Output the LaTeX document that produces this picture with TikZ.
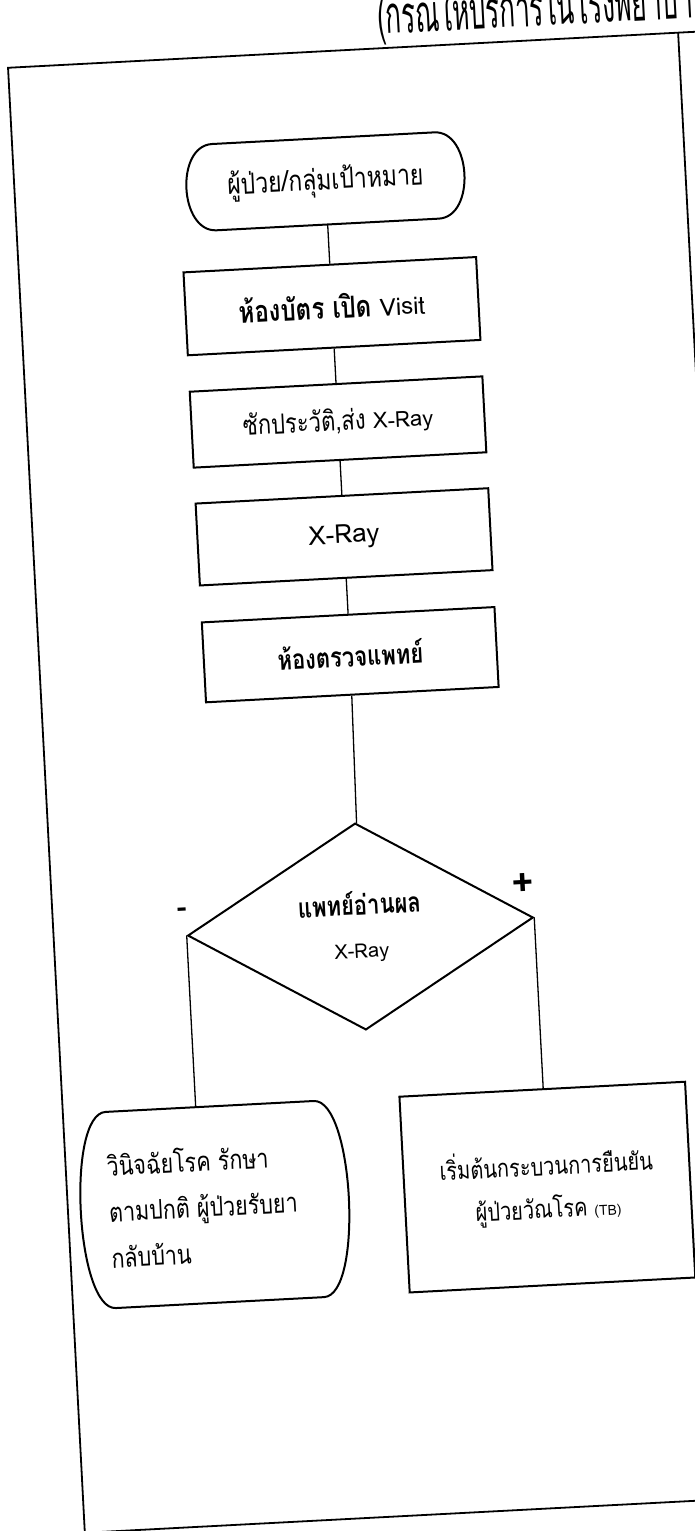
\documentclass[tikz,border=0pt]{standalone}
\usepackage{fontspec}
\usepackage{graphicx}
\newfontfamily\thaifont[Script=Thai]{Loma}
\usetikzlibrary{shapes.geometric}

% Thai letters in the scan stand taller than Loma's
\newcommand{\tallth}[1]{\scalebox{1}[1.25]{#1}}

% terminal outline with bulged ends, drawn round a node
\newcommand{\roundends}[2]{%
  \draw[outline] ([xshift=#2pt]#1.north west) -- ([xshift=-#2pt]#1.north east)
    .. controls ([xshift={#2pt/3}]#1.north east) and ([xshift={#2pt/3}]#1.south east) .. ([xshift=-#2pt]#1.south east)
    -- ([xshift=#2pt]#1.south west)
    .. controls ([xshift={-#2pt/3}]#1.south west) and ([xshift={-#2pt/3}]#1.north west) .. cycle;}

\begin{document}
\begin{tikzpicture}[
    x=1pt, y=-1pt,
    every node/.style={inner sep=0pt, font=\thaifont\fontsize{20}{43}\selectfont},
    outline/.style={line width=2pt},
    stepbox/.style={draw, outline, minimum width=293pt, align=center},
    choice/.style={diamond, draw, outline, minimum width=346pt, minimum height=207pt, align=center},
    link/.style={line width=1.3pt},
    frame/.style={line width=1.8pt}
  ]
  \useasboundingbox (0,0) rectangle (694,1531);
  \begin{scope}[rotate around={3:(347,765)}, transform shape]
  % page frame
  \draw[frame] (780,51) -- (45,51) -- (45,1518) -- (780,1518);
  \draw[frame] (716,51) -- (716,1518);
  \node[anchor=base west, font=\thaifont\fontsize{40}{40}\selectfont] (title) at (416,37) {\scalebox{0.65}[1.3]{(กรณีให้บริการในโรงพยาบาล)}};

  % main column
  \node[minimum width=278pt, minimum height=86pt, font=\thaifont\fontsize{23}{26}\selectfont] (start) at (356,181) {\tallth{ผู้ป่วย/กลุ่มเป้าหมาย}};
  \roundends{start}{28}
  \node[stepbox, minimum height=83pt, font=\thaifont\fontsize{24}{26}\selectfont] (card) at (356,306) {\tallth{\textbf{ห้องบัตร เปิด}} Visit};
  \node[stepbox, minimum height=76pt, font=\thaifont\fontsize{22}{26}\selectfont] (history) at (356,422) {\tallth{ซักประวัติ,ส่ง} X-Ray};
  \node[stepbox, minimum height=82pt, font=\thaifont\fontsize{26}{30}\selectfont] (xray) at (356,537) {X-Ray};
  \node[stepbox, minimum height=80pt, font=\thaifont\fontsize{22}{28}\selectfont] (doctor) at (356,655) {\tallth{\textbf{ห้องตรวจแพทย์}}};
  \node[choice] (read) at (352,927) {{\fontsize{22}{43}\selectfont\tallth{\textbf{แพทย์อ่านผล}}}\\X-Ray};
  \node[font=\thaifont\fontsize{30}{30}\selectfont] (neg) at (175,904) {\textbf{-}};
  \node[font=\thaifont\fontsize{38}{38}\selectfont] (pos) at (516,894) {\textbf{+}};

  % results
  \node[minimum width=268pt, minimum height=196pt, text width=212pt, align=left, font=\thaifont\fontsize{21.5}{46}\selectfont] (home) at (192,1197) {\tallth{วินิจฉัยโรค รักษา}\\\tallth{ตามปกติ ผู้ป่วยรับยา}\\\tallth{กลับบ้าน}};
  \roundends{home}{30}
  \node[stepbox, minimum width=286pt, minimum height=196pt] (confirm) at (525,1197) {\tallth{เริ่มต้นกระบวนการยืนยัน}\\\tallth{ผู้ป่วยวัณโรค} {\fontsize{14}{14}\selectfont(TB)}};

  \draw[link] (start) -- (card);
  \draw[link] (card) -- (history);
  \draw[link] (history) -- (xray);
  \draw[link] (xray) -- (doctor);
  \draw[link] (doctor) -- (read);
  \draw[link] (read.west) -- (read.west |- home.north);
  \draw[link] (read.east) -- (read.east |- confirm.north);
  \end{scope}
\end{tikzpicture}
\end{document}
